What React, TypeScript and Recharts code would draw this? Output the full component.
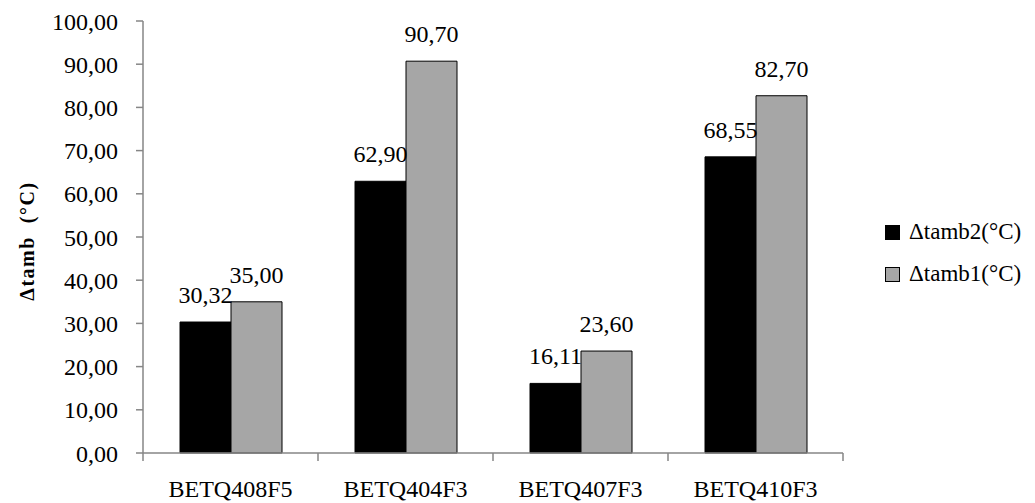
import React from 'react';
import { BarChart, Bar, XAxis, YAxis, LabelList, Legend } from 'recharts';

// Categories and series values
const categories = ['BETQ408F5', 'BETQ404F3', 'BETQ407F3', 'BETQ410F3'];
const tamb2Values = [30.32, 62.9, 16.11, 68.55];
const tamb1Values = [35.0, 90.7, 23.6, 82.7];
const seriesNames = ['\u0394tamb2(\u00B0C)', '\u0394tamb1(\u00B0C)'];
const yTicks = [0, 10, 20, 30, 40, 50, 60, 70, 80, 90, 100];
const yAxisTitle = '\u0394tamb  (\u00B0C)';

const data = categories.map((name, i) => ({
  name,
  tamb2: tamb2Values[i],
  tamb1: tamb1Values[i],
}));

const FONT = "'Liberation Serif', 'Times New Roman', Times, 'DejaVu Serif', 'Noto Serif', serif";
const AXIS = '#868686';
const WIDTH = 1035;
const HEIGHT = 503;
const MARGIN = { top: 21, right: 192, left: 0, bottom: 0 };
const Y_AXIS_WIDTH = 143;
const COLORS = ['#000000', '#a6a6a6'];

const fmt = (v: number) => v.toFixed(2).replace('.', ',');

// Category label with tick marks drawn on the band boundaries
const CategoryTick = (props: any) => {
  const { x, y, payload, index } = props;
  const plotWidth = WIDTH - MARGIN.right - Y_AXIS_WIDTH;
  const half = payload && payload.offset ? payload.offset : plotWidth / categories.length / 2;
  return (
    <g>
      {index === 0 && (
        <line x1={x - half} x2={x - half} y1={y} y2={y + 8} stroke={AXIS} strokeWidth={1.5} />
      )}
      <line x1={x + half} x2={x + half} y1={y} y2={y + 8} stroke={AXIS} strokeWidth={1.5} />
      <text x={x} y={y + 44} textAnchor="middle" style={{ fontFamily: FONT, fontSize: 24 }} fill="#000">
        {payload.value}
      </text>
    </g>
  );
};

const YTitle = (props: any) => {
  const vb = props.viewBox || { x: 0, y: 0, width: 0, height: 0 };
  const cx = vb.x + 27;
  const cy = vb.y + vb.height / 2 + 4;
  return (
    <text
      x={cx}
      y={cy}
      transform={`rotate(-90, ${cx}, ${cy})`}
      textAnchor="middle"
      dominantBaseline="central"
      style={{ fontFamily: FONT, fontWeight: 'bold', fontSize: 20, letterSpacing: 1.5, whiteSpace: 'pre' }}
      fill="#000"
    >
      {yAxisTitle}
    </text>
  );
};

const LegendContent = (props: any) => {
  const payload = [...(props.payload || [])].sort(
    (a: any, b: any) => seriesNames.indexOf(a.value) - seriesNames.indexOf(b.value)
  );
  return (
    <div style={{ fontFamily: FONT, fontSize: 23, color: '#000' }}>
      {payload.map((entry: any) => (
        <div key={entry.value} style={{ display: 'flex', alignItems: 'center', height: 42 }}>
          <span
            style={{
              display: 'inline-block',
              width: 13,
              height: 13,
              background: entry.color,
              border: '1px solid #000',
              marginRight: 9,
            }}
          />
          <span style={{ whiteSpace: 'nowrap' }}>{entry.value}</span>
        </div>
      ))}
    </div>
  );
};

const labelStyle = { fontFamily: FONT, fontSize: 24, fill: '#000' };

export default function App() {
  return (
    <div style={{ position: 'absolute', left: 0, top: 0, width: WIDTH, height: HEIGHT, background: '#fff' }}>
      <BarChart width={WIDTH} height={HEIGHT} data={data} margin={MARGIN} barGap={0} barSize={51}>
        <XAxis
          dataKey="name"
          height={50}
          tickSize={0}
          tickMargin={0}
          tickLine={false}
          axisLine={{ stroke: AXIS, strokeWidth: 1.5 }}
          tick={<CategoryTick />}
          interval={0}
        />
        <YAxis
          width={Y_AXIS_WIDTH}
          domain={[0, 100]}
          ticks={yTicks}
          interval={0}
          tickFormatter={fmt}
          tickSize={7}
          tickMargin={18}
          axisLine={{ stroke: AXIS, strokeWidth: 1.5 }}
          tickLine={{ stroke: AXIS, strokeWidth: 1.5 }}
          tick={{ style: labelStyle, fill: '#000' }}
          label={<YTitle />}
        />
        <Legend
          layout="vertical"
          align="center"
          verticalAlign="middle"
          wrapperStyle={{ left: 885, top: 211, width: 150 }}
          content={<LegendContent />}
        />
        <Bar dataKey="tamb2" name={seriesNames[0]} fill={COLORS[0]} stroke="#000" strokeWidth={1} isAnimationActive={false}>
          <LabelList
            dataKey="tamb2"
            position="top"
            offset={19}
            formatter={(v: any) => fmt(Number(v))}
            style={labelStyle}
          />
        </Bar>
        <Bar dataKey="tamb1" name={seriesNames[1]} fill={COLORS[1]} stroke="#000" strokeWidth={1} isAnimationActive={false}>
          <LabelList
            dataKey="tamb1"
            position="top"
            offset={19}
            formatter={(v: any) => fmt(Number(v))}
            style={labelStyle}
          />
        </Bar>
      </BarChart>
    </div>
  );
}
